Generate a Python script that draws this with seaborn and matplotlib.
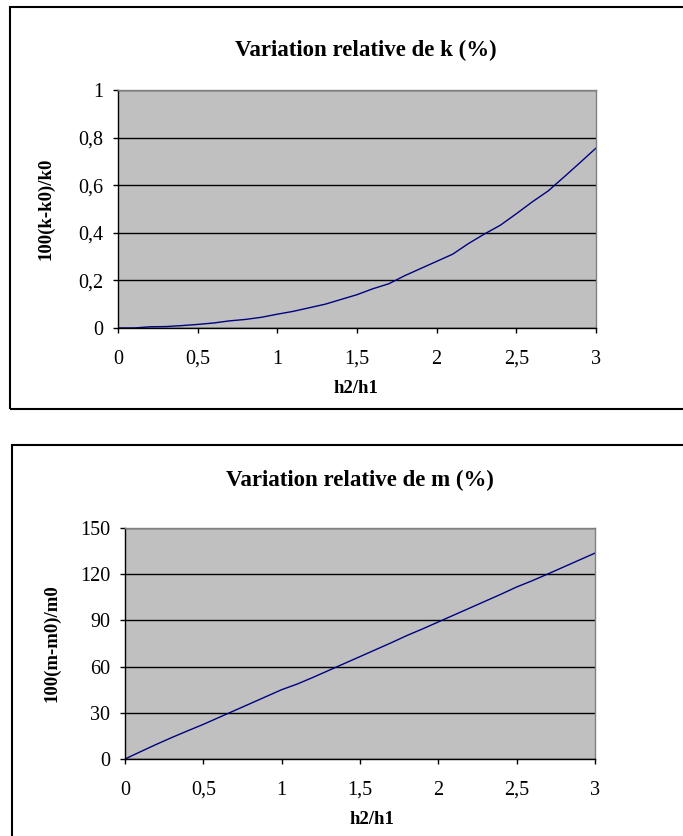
import numpy as np
import pandas as pd
import matplotlib.pyplot as plt
import seaborn as sns
from matplotlib.patches import Rectangle

# h2/h1 ratio, 0 -> 3 by 0.1
h_ratio = [0.0, 0.1, 0.2, 0.3, 0.4, 0.5, 0.6, 0.7, 0.8, 0.9, 1.0,
           1.1, 1.2, 1.3, 1.4, 1.5, 1.6, 1.7, 1.8, 1.9, 2.0,
           2.1, 2.2, 2.3, 2.4, 2.5, 2.6, 2.7, 2.8, 2.9, 3.0]

var_k = [0.0, 0.0, 0.005, 0.006, 0.01, 0.015, 0.021, 0.03, 0.036, 0.045, 0.058,
         0.07, 0.085, 0.1, 0.12, 0.14, 0.165, 0.186, 0.22, 0.25, 0.28,
         0.31, 0.355, 0.395, 0.432, 0.48, 0.53, 0.576, 0.635, 0.695, 0.756]

var_m = [0.0, 4.8, 9.5, 14.0, 18.3, 22.5, 27.0, 31.5, 36.0, 40.5, 45.0,
         48.7, 53.0, 57.5, 62.0, 66.5, 71.0, 75.5, 80.2, 84.5, 89.0,
         93.5, 98.0, 102.5, 107.0, 111.7, 115.8, 120.2, 124.7, 129.2, 133.7]

x_ticks = [0, 0.5, 1, 1.5, 2, 2.5, 3]
x_ticklabels = ["0", "0,5", "1", "1,5", "2", "2,5", "3"]
k_ticks = [0, 0.2, 0.4, 0.6, 0.8, 1]
k_ticklabels = ["0", "0,2", "0,4", "0,6", "0,8", "1"]
m_ticks = [0, 30, 60, 90, 120, 150]

df = pd.DataFrame({"h": h_ratio, "k": var_k, "m": var_m})

plt.rcParams["font.family"] = ["Liberation Serif", "DejaVu Serif"]

W, H = 683, 836
fig = plt.figure(figsize=(W / 100, H / 100), dpi=100)


def fx(px):
    return px / W


def fy(py):
    return 1 - py / H


# outer frames around each chart
fig.patches.append(Rectangle((fx(10), fy(409)), fx(700) - fx(10), fy(7) - fy(409),
                             transform=fig.transFigure, fill=False,
                             edgecolor="black", linewidth=1.5))
fig.patches.append(Rectangle((fx(12), fy(850)), fx(700) - fx(12), fy(445) - fy(850),
                             transform=fig.transFigure, fill=False,
                             edgecolor="black", linewidth=1.5))


def style_axes(ax, col, yticks, yticklabels, ylabel, ylim):
    sns.lineplot(data=df, x="h", y=col, ax=ax, color="#000080", linewidth=1.0)
    ax.set_facecolor("#C0C0C0")
    ax.set_xlim(0, 3)
    ax.set_ylim(*ylim)
    ax.set_xticks(x_ticks)
    ax.set_xticklabels(x_ticklabels)
    ax.set_yticks(yticks)
    ax.set_yticklabels(yticklabels)
    ax.yaxis.grid(True, color="black", linewidth=1.0)
    ax.set_axisbelow(True)
    for s in ["top", "right"]:
        ax.spines[s].set_color("#808080")
        ax.spines[s].set_linewidth(1.0)
    for s in ["left", "bottom"]:
        ax.spines[s].set_color("black")
        ax.spines[s].set_linewidth(1.0)
    ax.tick_params(axis="both", direction="out", length=3.6, width=1,
                   labelsize=14.5, colors="black")
    ax.tick_params(axis="x", pad=12)
    ax.tick_params(axis="y", pad=7)
    ax.set_xlabel("h2/h1", fontsize=13.5, fontweight="bold")
    ax.set_ylabel(ylabel, fontsize=13.5, fontweight="bold")


# top chart
ax1 = fig.add_axes([fx(118), fy(328), fx(596) - fx(118), fy(90) - fy(328)])
style_axes(ax1, "k", k_ticks, k_ticklabels, "100(k-k0)/k0", (0, 1))
ax1.xaxis.set_label_coords((356 - 118) / 478, (328 - 380) / 238)
ax1.yaxis.set_label_coords((55 - 118) / 478, 0.5)
fig.text(fx(366), fy(50), "Variation relative de k (%)", ha="center", va="center",
         fontsize=16.5, fontweight="bold")

# bottom chart
ax2 = fig.add_axes([fx(125), fy(759), fx(595) - fx(125), fy(528) - fy(759)])
style_axes(ax2, "m", m_ticks, [str(t) for t in m_ticks], "100(m-m0)/m0", (0, 150))
ax2.xaxis.set_label_coords((372 - 125) / 470, (759 - 811) / 231)
ax2.yaxis.set_label_coords((60 - 125) / 470, 0.5)
fig.text(fx(360), fy(480), "Variation relative de m (%)", ha="center", va="center",
         fontsize=16.5, fontweight="bold")

fig.savefig("out.png", dpi=100)
